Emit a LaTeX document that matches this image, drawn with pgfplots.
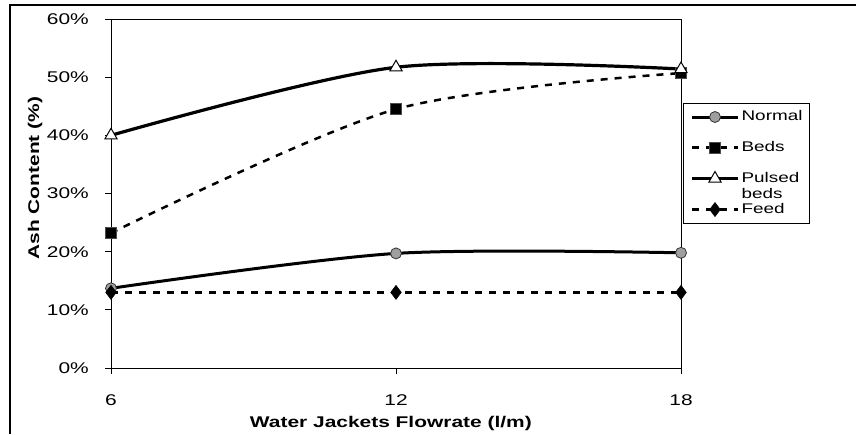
\documentclass[border=0pt]{standalone}
\usepackage{fontspec}
\setmainfont{Liberation Sans}[FakeStretch=1.35]
\usepackage{pgfplots}
\pgfplotsset{compat=1.18}
\begin{document}
\begin{tikzpicture}[x=1pt,y=1pt]
\useasboundingbox (0,0) rectangle (856,434);
\draw[line width=1.2pt] (10,0) -- (10,429) -- (856,429);
\begin{axis}[
  at={(111pt,66pt)}, anchor=south west,
  scale only axis, width=570pt, height=349pt,
  xmin=6, xmax=18, ymin=0, ymax=60,
  xtick={6,12,18}, ytick={0,10,...,60},
  yticklabel={\pgfmathprintnumber{\tick}\%},
  /pgf/number format/assume math mode=true,
  tick pos=left, tick align=outside,
  major tick length=6pt,
  tick style={black, line width=0.8pt},
  axis line style={line width=0.8pt},
  tick label style={font=\fontsize{15.5}{18}\selectfont},
  xticklabel style={anchor=center, yshift=-26pt},
  yticklabel style={anchor=east, inner sep=0pt, xshift=-16pt},
  xlabel={Water Jackets Flowrate (l/m)},
  ylabel={Ash Content (\%)},
  every axis x label/.style={at={(axis description cs:0.491,-0.16)}, anchor=center, font=\bfseries\fontsize{15.5}{18}\selectfont},
  every axis y label/.style={at={(axis description cs:-0.133,0.544)}, rotate=90, anchor=center, font=\bfseries\fontsize{15.5}{18}\selectfont},
  legend style={at={(axis description cs:1.0035,0.759)}, anchor=north west,
    draw=black, line width=0.8pt, fill=white,
    font=\fontsize{14}{16}\selectfont,
    inner xsep=7pt, inner ysep=7pt, column sep=2pt, row sep=17.5pt,
    nodes={inner sep=0pt, text height=10pt, text depth=3pt}},
  legend cell align=left,
  legend image code/.code={\draw[mark repeat=2,mark phase=2,#1] plot coordinates {(0pt,0pt)(23pt,0pt)(46pt,0pt)};},
]
\addplot[black, line width=3pt, smooth, mark=*, mark size=5.5pt,
  mark options={solid, fill=gray!75, draw=gray!40!black, line width=0.8pt}]
  coordinates {(6,13.7)(12,19.7)(18,19.8)};
\addlegendentry{Normal}
\addplot[black, line width=2.5pt, dash pattern=on 7pt off 7pt, smooth, mark=square*, mark size=5.5pt,
  mark options={solid, fill=black, draw=gray!60!black, line width=0.8pt}]
  coordinates {(6,23.2)(12,44.5)(18,50.7)};
\addlegendentry{Beds}
\addplot[black, line width=3.2pt, smooth, mark=triangle*, mark size=7pt,
  mark options={solid, fill=white, draw=black, line width=1pt}]
  coordinates {(6,40)(12,51.7)(18,51.4)};
\addlegendentry{\smash{\begin{tabular}[t]{@{}l@{}}Pulsed\\[0pt]beds\end{tabular}}}
\addplot[black, line width=2.5pt, dash pattern=on 7pt off 7pt, mark=diamond*, mark size=7pt,
  mark options={solid, fill=black, draw=black, line width=0.6pt}]
  coordinates {(6,13)(12,13)(18,13)};
\addlegendentry{Feed}
\end{axis}
\end{tikzpicture}
\end{document}
